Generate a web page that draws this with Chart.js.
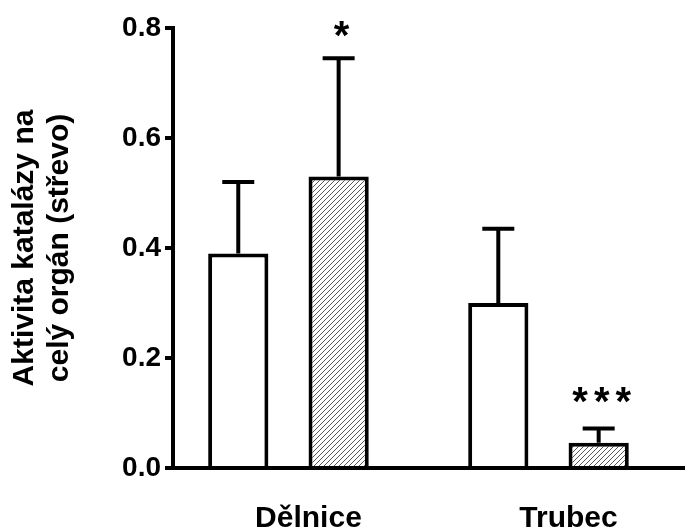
<!DOCTYPE html>
<html lang="cs">
<head>
<meta charset="UTF-8">
<title>Aktivita katalázy</title>
<script src="https://cdn.jsdelivr.net/npm/chart.js"></script>
<style>
  html, body { margin: 0; padding: 0; background: #fff; }
  .chart-box { width: 685px; height: 532px; }
</style>
</head>
<body>
<div class="chart-box"><canvas id="catalaseChart"></canvas></div>
<script>
// values
const groups = ['Dělnice', 'Trubec'];
const controlValues = [0.39, 0.30];
const controlErrors = [0.13, 0.135];
const treatedValues = [0.53, 0.046];
const treatedErrors = [0.215, 0.026];
const treatedStars = ['*', '***'];
const yTicks = [0, 0.2, 0.4, 0.6, 0.8];

const FONT = "'Liberation Sans', Arial, sans-serif";

function makeHatch() {
    const size = 5;
    const tile = document.createElement('canvas');
    tile.width = size;
    tile.height = size;
    const c = tile.getContext('2d');
    c.fillStyle = '#fff';
    c.fillRect(0, 0, size, size);
    c.strokeStyle = '#555';
    c.lineWidth = 1;
    c.beginPath();
    c.moveTo(-1, size + 1); c.lineTo(size + 1, -1);
    c.moveTo(-1, 1); c.lineTo(1, -1);
    c.moveTo(size - 1, size + 1); c.lineTo(size + 1, size - 1);
    c.stroke();
    return c.createPattern(tile, 'repeat');
}

const errorBars = {
    id: 'errorBars',
    afterDatasetsDraw(chart) {
        const ctx = chart.ctx;
        const yScale = chart.scales.y;
        ctx.save();
        ctx.strokeStyle = '#000';
        chart.data.datasets.forEach((ds, di) => {
            const meta = chart.getDatasetMeta(di);
            meta.data.forEach((bar, i) => {
                const top = yScale.getPixelForValue(ds.data[i].y + ds.errors[i]);
                ctx.lineWidth = 4;
                ctx.beginPath();
                ctx.moveTo(bar.x, bar.y);
                ctx.lineTo(bar.x, top);
                ctx.moveTo(bar.x - 16, top);
                ctx.lineTo(bar.x + 16, top);
                ctx.stroke();
                if (ds.stars && ds.stars[i]) {
                    ctx.fillStyle = '#000';
                    ctx.font = 'bold 40px ' + FONT;
                    ctx.letterSpacing = '6px';
                    ctx.textAlign = 'center';
                    ctx.textBaseline = 'alphabetic';
                    const lift = ds.stars[i].length > 1 ? 34 : 30;
                    ctx.fillText(ds.stars[i], bar.x + 6, top - lift + 21);
                }
            });
        });
        ctx.restore();
    }
};

const ctx = document.getElementById('catalaseChart').getContext('2d');

new Chart(ctx, {
    type: 'bar',
    data: {
        datasets: [
            {
                label: 'kontrola',
                data: controlValues.map((v, i) => ({ x: i, y: v })),
                errors: controlErrors,
                backgroundColor: '#fff',
                borderColor: '#000',
                borderWidth: 4,
                borderSkipped: 'bottom'
            },
            {
                label: 'ošetření',
                data: treatedValues.map((v, i) => ({ x: i, y: v })),
                errors: treatedErrors,
                stars: treatedStars,
                backgroundColor: makeHatch(),
                borderColor: '#000',
                borderWidth: 4,
                borderSkipped: 'bottom'
            }
        ]
    },
    options: {
        responsive: true,
        maintainAspectRatio: false,
        animation: false,
        categoryPercentage: 0.772,
        barPercentage: 0.6,
        layout: { padding: { top: 28, right: 0, bottom: 0, left: 0 } },
        plugins: {
            legend: { display: false },
            tooltip: { enabled: false }
        },
        scales: {
            x: {
                type: 'linear',
                offset: false,
                min: -0.444,
                max: 1.525,
                afterBuildTicks: s => { s.ticks = groups.map((g, i) => ({ value: i })); },
                afterFit: s => { s.height = 64; },
                grid: { display: false, drawTicks: false, offset: false },
                border: { color: '#000', width: 4 },
                ticks: {
                    callback: v => groups[v],
                    color: '#000',
                    padding: 33,
                    labelOffset: 20,
                    maxRotation: 0,
                    font: { family: FONT, size: 30, weight: 'bold' }
                }
            },
            y: {
                min: 0,
                max: 0.8,
                afterBuildTicks: s => { s.ticks = yTicks.map(v => ({ value: v })); },
                afterFit: s => { s.width = 173; },
                grid: { drawOnChartArea: false, drawTicks: true, tickLength: 8, lineWidth: 4, color: '#000' },
                border: { color: '#000', width: 4 },
                ticks: {
                    callback: v => v.toFixed(1),
                    color: '#000',
                    padding: 4,
                    font: { family: FONT, size: 28, weight: 'bold' }
                },
                title: {
                    display: true,
                    text: ['Aktivita katalázy na', 'celý orgán (střevo)'],
                    color: '#000',
                    padding: { top: 7, bottom: 0 },
                    font: { family: FONT, size: 30, weight: 'bold', lineHeight: 1.17 }
                }
            }
        }
    },
    plugins: [errorBars]
});
</script>
</body>
</html>
